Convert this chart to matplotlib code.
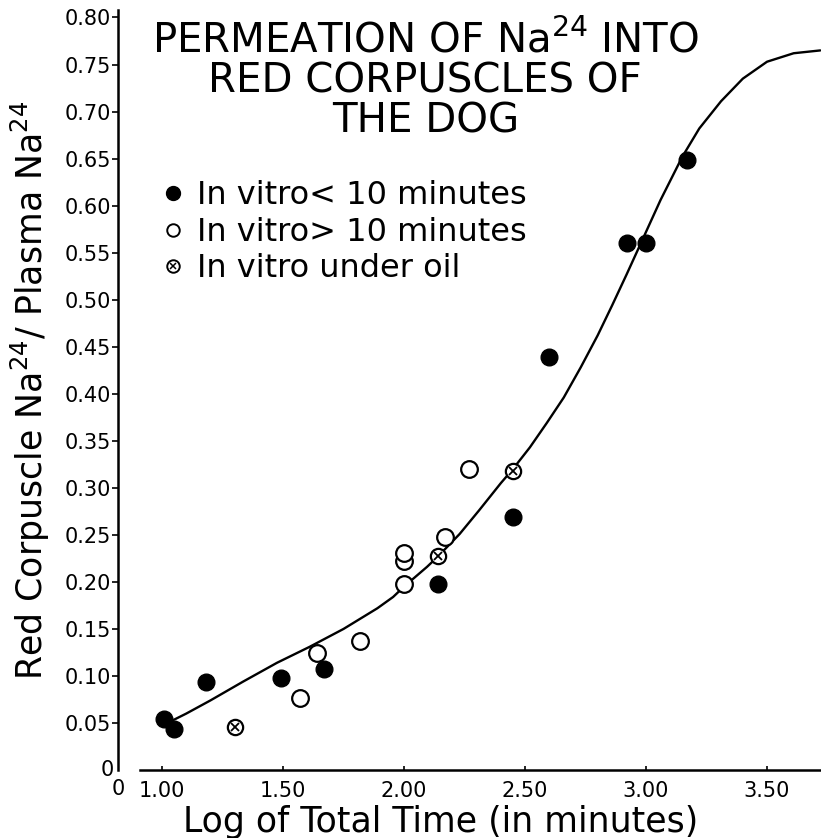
import matplotlib
matplotlib.use("Agg")
import matplotlib.pyplot as plt
from matplotlib.lines import Line2D

plt.rcParams['font.family'] = ['DejaVu Sans']
plt.rcParams['mathtext.default'] = 'regular'

# data (x = log10 of total time in minutes)
below10_x = [1.01, 1.05, 1.18, 1.49, 1.67, 2.14, 2.45, 2.60, 2.92, 3.00, 3.17]
below10_y = [0.054, 0.044, 0.094, 0.098, 0.107, 0.198, 0.269, 0.439, 0.560, 0.560, 0.648]

above10_x = [1.57, 1.64, 1.82, 2.00, 2.00, 2.00, 2.17, 2.27]
above10_y = [0.077, 0.124, 0.137, 0.198, 0.222, 0.231, 0.248, 0.320]

oil_x = [1.30, 2.14, 2.45]
oil_y = [0.046, 0.228, 0.318]

# hand drawn curve, traced point by point
curve_x = [1.03, 1.10, 1.20, 1.335, 1.475, 1.61, 1.75, 1.89, 1.955, 2.00, 2.095, 2.14,
           2.23, 2.31, 2.40, 2.45, 2.52, 2.59, 2.66, 2.73, 2.80, 2.86, 2.92, 2.975,
           3.06, 3.15, 3.22, 3.31, 3.40, 3.50, 3.61, 3.72]
curve_y = [0.051, 0.060, 0.074, 0.094, 0.114, 0.131, 0.150, 0.172, 0.184, 0.195, 0.216, 0.227,
           0.251, 0.276, 0.305, 0.320, 0.343, 0.369, 0.396, 0.428, 0.462, 0.494, 0.527, 0.558,
           0.606, 0.652, 0.682, 0.711, 0.735, 0.753, 0.762, 0.765]

xticks = [1.0, 1.5, 2.0, 2.5, 3.0, 3.5]
xticklabels = ['1.00', '1.50', '2.00', '2.50', '3.00', '3.50']
yticks = [0.05 * i for i in range(1, 17)]
yticklabels = ['%.2f' % t for t in yticks]

fig = plt.figure(figsize=(8.21, 8.38), dpi=100)
ax = fig.add_axes([0.1437, 0.0811, 0.8563, 0.907])

ax.plot(curve_x, curve_y, color='black', lw=1.7, zorder=2,
        solid_joinstyle='round', solid_capstyle='round')
ax.plot(below10_x, below10_y, 'o', color='black', ms=12, zorder=3)
ax.plot(above10_x, above10_y, 'o', mfc='white', mec='black', mew=1.6, ms=12, zorder=3)
ax.plot(oil_x, oil_y, 'o', mfc='white', mec='black', mew=1.6, ms=11, zorder=3)
ax.plot(oil_x, oil_y, 'x', color='black', mew=1.3, ms=6, zorder=4)

ax.set_xlim(0.818, 3.723)
ax.set_ylim(0, 0.808)

ax.spines['top'].set_visible(False)
ax.spines['right'].set_visible(False)
ax.spines['left'].set_linewidth(1.8)
ax.spines['bottom'].set_linewidth(1.8)
ax.spines['bottom'].set_bounds(0.909, 3.723)

ax.set_xticks(xticks)
ax.set_xticklabels(xticklabels)
ax.set_yticks(yticks)
ax.set_yticklabels(yticklabels)
ax.tick_params(axis='x', length=3, direction='in', width=1.2, pad=8, labelsize=15)
ax.tick_params(axis='y', length=4, direction='out', width=1.2, pad=1, labelsize=15)

# zeros at the origin (broken axis)
ax.text(-0.006, 0.0, '0', transform=ax.transAxes, ha='right', va='center', fontsize=15)
ax.text(0.0, -0.012, '0', transform=ax.transAxes, ha='center', va='top', fontsize=15)

ax.set_xlabel('Log of Total Time (in minutes)', fontsize=25)
ax.xaxis.set_label_coords(0.459, -0.046)
ax.set_ylabel('Red Corpuscle Na$^{24}$/ Plasma Na$^{24}$', fontsize=25)
ax.yaxis.set_label_coords(-0.094, 0.5)

fig.text(0.518, 0.976, 'PERMEATION OF Na$^{24}$ INTO\nRED CORPUSCLES OF\nTHE DOG',
         ha='center', va='top', fontsize=29, linespacing=1.0)

handles = [
    Line2D([], [], ls='none', marker='o', color='black', ms=10),
    Line2D([], [], ls='none', marker='o', mfc='white', mec='black', mew=1.4, ms=9),
    (Line2D([], [], ls='none', marker='o', mfc='white', mec='black', mew=1.4, ms=9),
     Line2D([], [], ls='none', marker='x', color='black', mew=1.1, ms=5)),
]
labels = ['In vitro< 10 minutes', 'In vitro> 10 minutes', 'In vitro under oil']
ax.legend(handles, labels, loc='upper left', bbox_to_anchor=(0.18, 0.8),
          bbox_transform=fig.transFigure, frameon=False, fontsize=23,
          handlelength=0.8, handletextpad=0.35, labelspacing=0.17, borderaxespad=0)

fig.savefig('out.png', dpi=100)
